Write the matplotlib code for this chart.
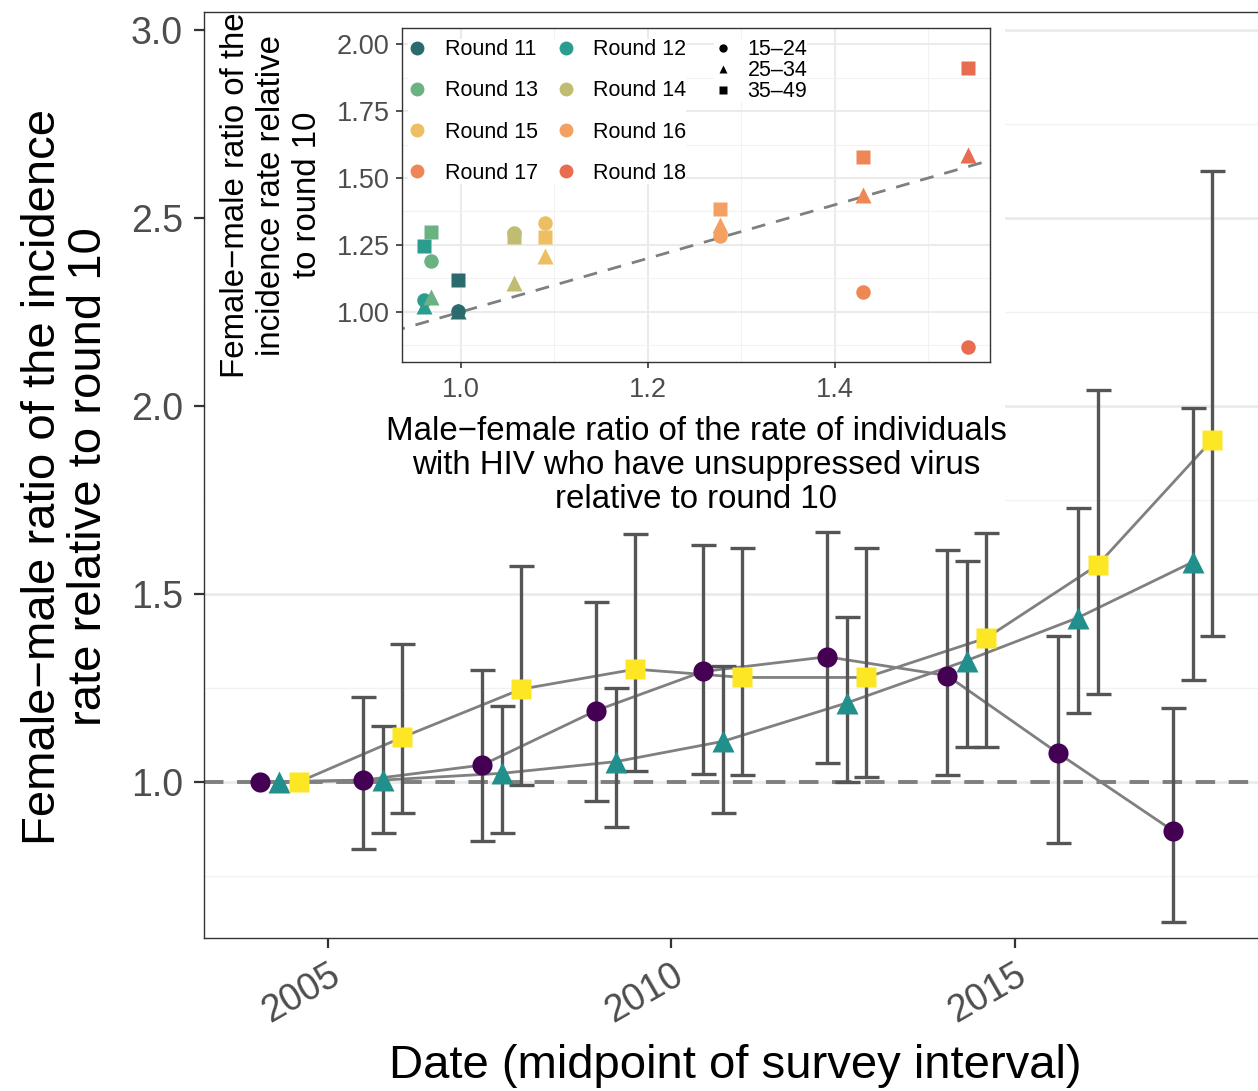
import matplotlib
matplotlib.use("Agg")
import matplotlib.pyplot as plt
from matplotlib.lines import Line2D
import numpy as np

plt.rcParams['font.family'] = ['Liberation Sans', 'DejaVu Sans']

# midpoint of each survey round (rounds 10-18)
dates = np.array([2004.29, 2005.80, 2007.53, 2009.19, 2010.75, 2012.55, 2014.30, 2015.92, 2017.59])
rounds = ['Round 11', 'Round 12', 'Round 13', 'Round 14', 'Round 15', 'Round 16', 'Round 17', 'Round 18']
ages = ['15–24', '25–34', '35–49']

# female-male incidence ratio relative to round 10, by age group
ratio_1524 = np.array([1.0, 1.005, 1.045, 1.190, 1.294, 1.333, 1.283, 1.076, 0.870])
lo_1524 = np.array([np.nan, 0.821, 0.842, 0.950, 1.022, 1.051, 1.018, 0.839, 0.627])
hi_1524 = np.array([np.nan, 1.225, 1.298, 1.480, 1.629, 1.664, 1.617, 1.387, 1.198])

ratio_2534 = np.array([1.0, 1.005, 1.023, 1.054, 1.108, 1.210, 1.323, 1.437, 1.585])
lo_2534 = np.array([np.nan, 0.864, 0.864, 0.881, 0.918, 1.000, 1.093, 1.183, 1.271])
hi_2534 = np.array([np.nan, 1.149, 1.203, 1.251, 1.309, 1.439, 1.587, 1.730, 1.996])

ratio_3549 = np.array([1.0, 1.119, 1.247, 1.300, 1.278, 1.278, 1.383, 1.577, 1.910])
lo_3549 = np.array([np.nan, 0.918, 0.992, 1.030, 1.019, 1.012, 1.093, 1.233, 1.388])
hi_3549 = np.array([np.nan, 1.366, 1.574, 1.659, 1.623, 1.623, 1.663, 2.043, 2.625])

# male-female ratio of unsuppressed virus rate relative to round 10 (rounds 11-18)
mf_viral = np.array([0.997, 0.961, 0.968, 1.057, 1.090, 1.277, 1.430, 1.543])

age_colors = ['#440154', '#21908C', '#FDE725']
age_markers = ['o', '^', 's']
age_msize = [14.5, 15.5, 14.5]
round_colors = ['#2C6B6D', '#2A9D8F', '#6BB283', '#C0BD73', '#EDBE62', '#F4A062', '#EF8655', '#E86C4F']

W, H = 1258, 1091
fig = plt.figure(figsize=(W / 100, H / 100), dpi=100)

# ---- main panel ----
ax = fig.add_axes([204 / W, (H - 938) / H, 1078 / W, 926 / H])
ax.set_xlim(2003.195, 2018.89)
ax.set_ylim(0.585, 3.048)
ax.set_yticks([1.0, 1.5, 2.0, 2.5, 3.0])
ax.set_yticks([0.75, 1.25, 1.75, 2.25, 2.75], minor=True)
ax.set_xticks([2005, 2010, 2015])
ax.grid(axis='y', which='major', color='#EBEBEB', lw=2.0, zorder=0)
ax.grid(axis='y', which='minor', color='#F2F2F2', lw=1.0, zorder=0)
ax.tick_params(axis='y', which='minor', length=0)
ax.tick_params(which='major', length=7, width=1.6, color='#333333', labelcolor='#4D4D4D', labelsize=27, pad=8)
ax.tick_params(axis='x', pad=7)
ax.set_xticklabels(['2005', '2010', '2015'], rotation=30, ha='right', va='top', rotation_mode='anchor')
for s in ax.spines.values():
    s.set_color('#333333')
    s.set_linewidth(1.0)
ax.set_axisbelow(True)

ax.axhline(1.0, color='#7F7F7F', lw=2.8, ls=(0, (5, 3.5)), zorder=1)

dodge = [-0.285, 0.0, 0.285]
series = [(ratio_1524, lo_1524, hi_1524), (ratio_2534, lo_2534, hi_2534), (ratio_3549, lo_3549, hi_3549)]
for k, (y, lo, hi) in enumerate(series):
    x = dates + dodge[k]
    ax.plot(x, y, color='#808080', lw=2.0, zorder=2)
    ax.errorbar(x, y, yerr=[y - lo, hi - y], fmt='none', ecolor='#555555',
                elinewidth=2.4, capsize=9, capthick=2.4, zorder=3)
    ax.plot(x, y, ls='none', marker=age_markers[k], ms=age_msize[k], color=age_colors[k],
            mec='none', zorder=4)

fig.text(66 / W, 1 - 477 / H, 'Female\u2212male ratio of the incidence\nrate relative to round 10',
         rotation=90, ha='center', va='center', fontsize=34, linespacing=1.05)
fig.text(735 / W, 1 - 1066 / H, 'Date (midpoint of survey interval)',
         ha='center', va='center', fontsize=34)

# ---- white background behind inset ----
bg = fig.add_axes([206 / W, (H - 515) / H, (1005 - 206) / W, (515 - 14) / H])
bg.set_facecolor('white')
bg.set_xticks([])
bg.set_yticks([])
for s in bg.spines.values():
    s.set_visible(False)

# ---- inset ----
ins = fig.add_axes([402 / W, (H - 362) / H, 588 / W, 334 / H])
ins.set_xlim(0.937, 1.566)
ins.set_ylim(0.813, 2.06)
ins.set_xticks([1.0, 1.2, 1.4])
ins.set_xticks([1.1, 1.3, 1.5], minor=True)
ins.set_yticks([1.0, 1.25, 1.5, 1.75, 2.0])
ins.set_yticks([0.875, 1.125, 1.375, 1.625, 1.875], minor=True)
ins.set_xticklabels(['1.0', '1.2', '1.4'])
ins.set_yticklabels(['1.00', '1.25', '1.50', '1.75', '2.00'])
ins.grid(which='major', color='#EBEBEB', lw=1.5, zorder=0)
ins.grid(which='minor', color='#F2F2F2', lw=0.8, zorder=0)
ins.tick_params(which='minor', length=0)
ins.tick_params(which='major', length=4, width=1.2, color='#333333', labelcolor='#4D4D4D', labelsize=19.5, pad=5)
ins.tick_params(axis='x', pad=7)
for s in ins.spines.values():
    s.set_color('#333333')
    s.set_linewidth(1.0)
ins.set_axisbelow(True)

ident = np.array([0.9, 1.6])
ins.plot(ident, ident, color='#7F7F7F', lw=2.0, ls=(0, (5, 4)), zorder=1)

for k, (y, lo, hi) in enumerate(series):
    for r in range(len(rounds)):
        ins.plot(mf_viral[r], y[r + 1], ls='none', marker=age_markers[k], ms=age_msize[k] * 0.72,
                 color=round_colors[r], mec='none', zorder=3)

ins.set_xlabel('Male\u2212female ratio of the rate of individuals\nwith HIV who have unsuppressed virus\nrelative to round 10',
               fontsize=23.8, labelpad=9, linespacing=1.12)
ins.set_ylabel('Female\u2212male ratio of the\nincidence rate relative\nto round 10',
               fontsize=23.8, labelpad=10, linespacing=1.2)

order = [0, 2, 4, 6, 1, 3, 5, 7]
round_handles = [Line2D([], [], ls='none', marker='o', ms=10, color=round_colors[i], mec='none') for i in order]
leg1 = ins.legend(round_handles, [rounds[i] for i in order], ncol=2, loc='upper left',
                  bbox_to_anchor=(0.0, 0.985), fontsize=15.5, frameon=True, fancybox=False,
                  edgecolor='none', facecolor='white', framealpha=1.0, handlelength=0.8,
                  handletextpad=0.88, columnspacing=0.9, labelspacing=0.93, borderpad=0.0,
                  borderaxespad=0.3)
ins.add_artist(leg1)
shape_handles = [Line2D([], [], ls='none', marker=age_markers[k], ms=6, color='black', mec='none') for k in range(3)]
ins.legend(shape_handles, ages, loc='upper left', bbox_to_anchor=(0.52, 0.985), fontsize=15.5,
           frameon=True, fancybox=False, edgecolor='none', facecolor='white', framealpha=1.0,
           handlelength=0.8, handletextpad=0.75, labelspacing=0.0, borderpad=0.0,
           borderaxespad=0.3)

fig.savefig('out.png', dpi=100)
